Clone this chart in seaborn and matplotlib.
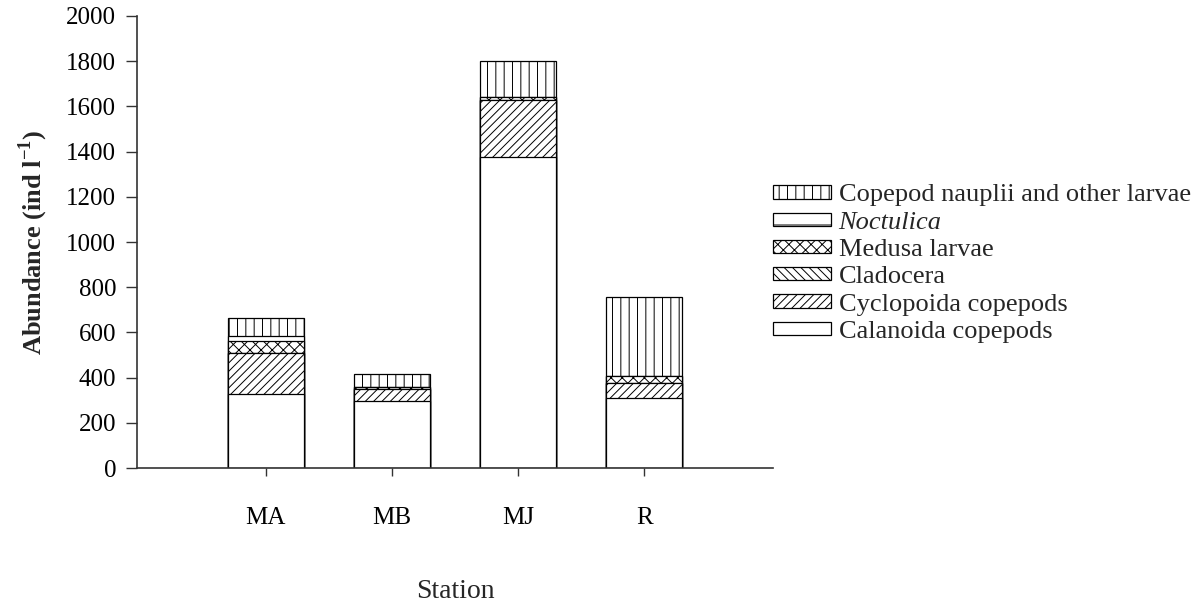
import matplotlib
matplotlib.use("Agg")
import matplotlib.pyplot as plt
import numpy as np
import pandas as pd
import seaborn as sns
from matplotlib.patches import Patch

# Zooplankton abundance per station (ind l^-1), stacked bottom to top
stations = ["MA", "MB", "MJ", "R"]
groups = ["Calanoida copepods", "Cyclopoida copepods", "Cladocera",
          "Medusa larvae", "Noctulica", "Copepod nauplii and other larvae"]
calanoida = [326, 295, 1377, 308]
cyclopoida = [184, 55, 250, 67]
cladocera = [0, 0, 0, 0]
medusa = [50, 8, 15, 33]
noctulica = [22, 0, 0, 0]
nauplii = [83, 57, 158, 350]
yticks = [0, 200, 400, 600, 800, 1000, 1200, 1400, 1600, 1800, 2000]

hatches = ["", "////", "\\\\\\\\", "xxx", "-", "||"]

sns.set_theme(style="ticks")
plt.rcParams["font.family"] = ["Liberation Serif", "DejaVu Serif"]
plt.rcParams["mathtext.fontset"] = "custom"
plt.rcParams["mathtext.rm"] = "Liberation Serif"
plt.rcParams["mathtext.bf"] = "Liberation Serif:bold"
plt.rcParams["hatch.linewidth"] = 0.7
plt.rcParams["hatch.color"] = "black"

layers = [calanoida, cyclopoida, cladocera, medusa, noctulica, nauplii]
df = pd.DataFrame({"Station": stations})
cum = np.zeros(len(stations))
for name, vals in zip(groups, layers):
    cum = cum + np.array(vals, dtype=float)
    df[name] = cum

fig = plt.figure(figsize=(11.98, 6.06), dpi=100)
ax = fig.add_axes([0.1144, 0.2277, 0.5308, 0.7459])

# draw cumulative totals from the top layer down so each lower layer covers the one above
for name, h in reversed(list(zip(groups, hatches))):
    sns.barplot(data=df, x="Station", y=name, color="white", saturation=1,
                edgecolor="black", linewidth=0.9, hatch=h, width=0.6,
                errorbar=None, ax=ax)

ax.set_xlim(-1.02, 4.02)
ax.set_ylim(0, 2000)
ax.set_yticks(yticks)
ax.set_yticklabels([str(t) for t in yticks])
sns.despine(ax=ax)
for s in ["left", "bottom"]:
    ax.spines[s].set_color("#333333")
    ax.spines[s].set_linewidth(1.2)

ax.tick_params(axis="y", direction="out", length=8, width=1, colors="#333333",
               labelcolor="black", labelsize=18, pad=7)
ax.tick_params(axis="x", direction="out", length=6, width=1, colors="#333333",
               labelcolor="black", labelsize=18, pad=22)

ax.set_xlabel("Station", fontsize=20, labelpad=36)
ax.set_ylabel(r"Abundance (ind l$^{\mathbf{-1}}$)", fontsize=19,
              fontweight="bold", labelpad=12)

handles = [Patch(facecolor="white", edgecolor="black", linewidth=0.9, hatch=h)
           for h in hatches]
order = list(range(len(groups)))[::-1]
leg = fig.legend([handles[i] for i in order], [groups[i] for i in order],
                 loc="center left", bbox_to_anchor=(0.645, 0.565),
                 frameon=False, fontsize=19, handlelength=2.2,
                 handleheight=0.4, handletextpad=0.3, labelspacing=0.2,
                 borderpad=0, borderaxespad=0)
for t in leg.get_texts():
    if t.get_text() == "Noctulica":
        t.set_style("italic")

fig.savefig("out.png", dpi=100)
